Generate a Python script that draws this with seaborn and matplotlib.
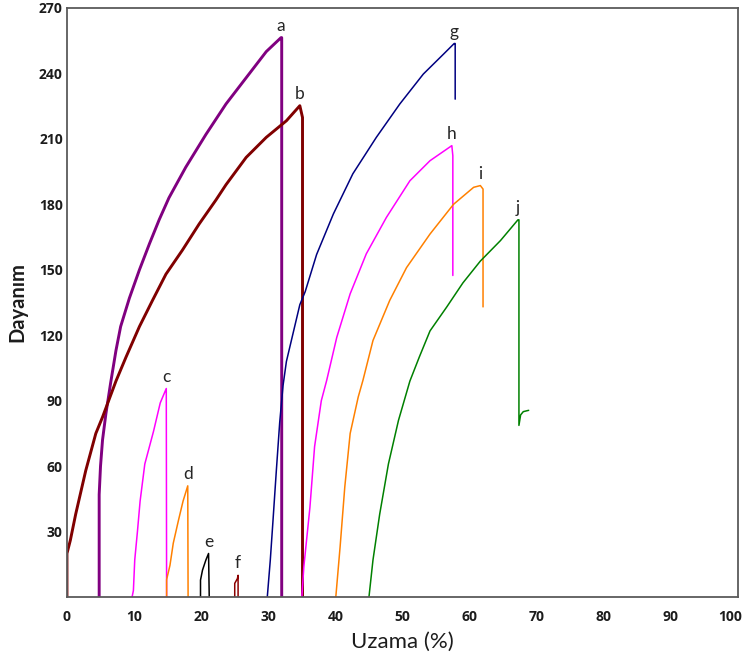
import matplotlib
matplotlib.use("Agg")
import matplotlib.pyplot as plt
from matplotlib.transforms import ScaledTranslation
import seaborn as sns
import pandas as pd

# ---- data ----
a_x = [4.8, 4.8, 5.0, 5.3, 5.8, 6.5, 7.3, 8.0, 9.3, 10.8, 12.3, 13.75, 15.2, 17.7, 20.7, 23.7, 26.7, 29.7, 31.9, 32.0, 32.0]
a_y = [0, 47, 60, 72, 84, 98, 113, 124, 137, 150, 162, 173, 183, 197, 212, 226, 238, 250, 256.4, 256.4, 0]

b_x = [0, 0, 0.5, 1.3, 2.8, 4.3, 5.3, 7.3, 8.8, 10.8, 12.75, 14.75, 17.2, 19.7, 22.2, 23.7, 26.7, 29.7, 32.7, 34.7, 35.1, 35.1]
b_y = [0, 20, 26, 38, 58, 75, 82.5, 99, 110, 124, 136, 148, 159, 171, 182, 189, 201.5, 210.7, 218.3, 225.2, 219.8, 0]

c_x = [9.7, 9.9, 10.1, 10.5, 10.9, 11.6, 12.9, 13.9, 14.8, 14.85]
c_y = [0, 3, 17, 30, 44, 61, 76, 89, 95.6, 0]

d_x = [14.85, 14.85, 15.35, 15.84, 16.6, 17.3, 18.0, 18.05]
d_y = [0, 8, 14.6, 24.7, 35, 44, 51, 0]

e_x = [19.9, 19.9, 20.2, 20.7, 21.1, 21.2]
e_y = [0, 7.8, 12.4, 17, 20, 0]

f_x = [25.0, 25.0, 25.4, 25.5, 25.5]
f_y = [0, 6.3, 8.5, 10, 0]

g_x = [29.85, 30.3, 30.7, 31.2, 31.7, 32.2, 32.7, 33.7, 34.7, 35.5, 37.2, 39.7, 42.6, 46.1, 49.6, 53.1, 56.1, 57.7, 57.85, 57.85]
g_y = [0, 17, 35, 58, 80, 97, 108, 121, 134, 140, 157, 175.6, 194, 210.7, 226, 239.7, 248.8, 253.7, 253.7, 228.2]

h_x = [35.0, 35.3, 36.2, 36.9, 37.9, 38.7, 40.2, 42.2, 44.6, 47.6, 51.1, 54.1, 57.35, 57.5, 57.5]
h_y = [0, 14, 41, 69, 90, 99.3, 119, 139, 157.3, 174, 190.8, 200, 206.9, 202.3, 147.4]

i_x = [40.06, 40.7, 41.4, 42.2, 43.4, 44.1, 45.6, 48.1, 50.6, 54.1, 57.6, 60.6, 61.6, 62.0, 62.0]
i_y = [0, 23, 50.5, 75, 91.7, 99.3, 117.6, 136, 151, 166.4, 180, 187.8, 188.6, 187, 133]

j_x = [45.0, 45.6, 46.6, 47.9, 49.4, 51.1, 52.5, 54.1, 56.6, 59.0, 61.6, 64.6, 67.2, 67.35, 67.35, 67.6, 68.0, 68.8]
j_y = [0, 17, 38, 61, 81, 99, 110, 122, 133, 144, 154, 163.4, 172.9, 172.9, 78.7, 83.5, 85, 85.6]

labels = ["a", "b", "c", "d", "e", "f", "g", "h", "i", "j"]
curves_x = [a_x, b_x, c_x, d_x, e_x, f_x, g_x, h_x, i_x, j_x]
curves_y = [a_y, b_y, c_y, d_y, e_y, f_y, g_y, h_y, i_y, j_y]
colors = ["#800080", "#800000", "#ff00ff", "#ff8000", "#000000",
          "#8b0000", "#000080", "#ff00ff", "#ff8000", "#008000"]
widths = [2.1, 2.1, 1.1, 1.1, 1.1, 1.1, 1.1, 1.1, 1.1, 1.1]

x_ticks = list(range(0, 101, 10))
y_ticks = list(range(30, 271, 30))

# ---- plotting ----
sns.set_style("white")
plt.rcParams["font.family"] = ["DejaVu Sans"]

fig = plt.figure(figsize=(7.44, 6.62), dpi=100)
ax = fig.add_axes([0.090, 0.098, 0.902, 0.890])

for lab, xs, ys, col, lw in zip(labels, curves_x, curves_y, colors, widths):
    df = pd.DataFrame({"x": xs, "y": ys})
    sns.lineplot(data=df, x="x", y="y", sort=False, estimator=None,
                 color=col, linewidth=lw, ax=ax)
    k = max(range(len(ys)), key=lambda n: ys[n])
    ax.annotate(lab, xy=(xs[k], ys[k]), xytext=(0, 5), textcoords="offset points",
                ha="center", va="baseline", fontsize=12.5, color="#262626",
                family=["Lato", "DejaVu Sans"])

ax.set_xlim(0, 100)
ax.set_ylim(0, 270)
ax.set_xticks(x_ticks)
ax.set_yticks(y_ticks)
ax.tick_params(axis="both", direction="in", length=5, width=1.1, color="#404040",
               labelsize=10, labelcolor="#1c1c1c")
ax.tick_params(axis="x", pad=9)
ax.tick_params(axis="y", pad=3)
for t in ax.get_xticklabels() + ax.get_yticklabels():
    t.set_fontweight("bold")
    t.set_family(["Open Sans", "DejaVu Sans"])

# keep the last x tick label inside the figure, as in the reference
last = ax.get_xticklabels()[-1]
last.set_transform(last.get_transform() + ScaledTranslation(-8 / 100, 0, fig.dpi_scale_trans))

for sp in ax.spines.values():
    sp.set_color("#5a5a5a")
    sp.set_linewidth(1.3)

ax.set_xlabel("Uzama (%)", fontsize=16, family=["Lato", "DejaVu Sans"], color="#1c1c1c", labelpad=6)
ax.set_ylabel("Dayanım", fontsize=14.5, fontweight="bold", family=["Lato", "DejaVu Sans"], color="#1c1c1c", labelpad=8)

fig.savefig("out.png", dpi=100)
